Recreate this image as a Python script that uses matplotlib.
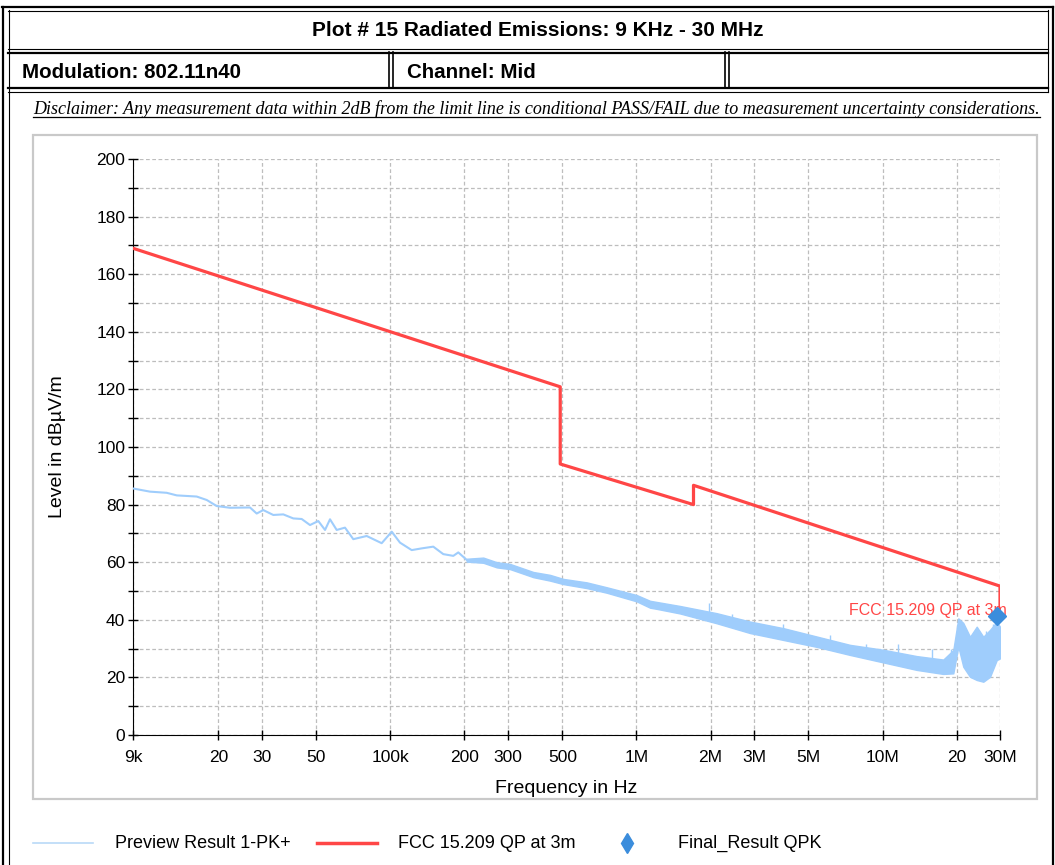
import matplotlib
matplotlib.use('Agg')
import matplotlib.pyplot as plt
from matplotlib import font_manager
from matplotlib.lines import Line2D
from matplotlib.patches import Rectangle

# preview trace (low frequency part, a single line)
preview_freq = [9.0e3, 10.55e3, 12.33e3, 13.55e3, 16.33e3, 17.94e3, 19.70e3, 22.31e3,
                26.89e3, 28.63e3, 30.45e3, 33.44e3, 36.72e3, 40.33e3, 43.62e3, 47.15e3,
                50.95e3, 54.26e3, 56.85e3, 60.52e3, 65.40e3, 70.69e3, 80.12e3, 85.21e3,
                92.20e3, 101.3e3, 109.4e3, 122.1e3, 134.1e3, 149.4e3, 164.1e3, 180.2e3,
                188.8e3, 204.3e3]
preview_level = [85.6, 84.5, 84.1, 83.2, 82.8, 81.6, 79.5, 78.9,
                 79.0, 76.9, 78.1, 76.4, 76.6, 75.2, 75.0, 72.9,
                 74.3, 71.2, 74.9, 71.2, 72.0, 68.0, 69.1, 68.0,
                 66.6, 70.6, 66.8, 64.2, 64.8, 65.4, 62.8, 62.2,
                 63.4, 60.8]

# preview trace, noisy part drawn as an envelope (upper / lower edge)
noise_freq = [204.3e3, 238.5e3, 270.5e3, 306.3e3, 352.5e3, 380.9e3, 445.4e3, 504.3e3,
              627.9e3, 756.9e3, 1.002e6, 1.135e6, 1.208e6, 1.503e6, 2.118e6, 2.893e6,
              3.951e6, 5.399e6, 7.373e6, 10.07e6, 13.76e6, 17.65e6, 19.38e6, 20.31e6,
              21.28e6, 22.66e6, 24.13e6, 25.66e6, 27.32e6, 29.09e6, 30.0e6]
noise_hi = [61.2, 61.6, 60.0, 59.4, 57.6, 56.6, 55.6, 54.2,
            53.0, 51.3, 48.6, 46.6, 46.2, 44.8, 42.3, 39.4,
            37.1, 34.2, 31.3, 29.6, 27.4, 26.2, 29.5, 40.5,
            38.9, 34.1, 37.6, 34.1, 36.5, 39.3, 37.6]
noise_lo = [60.2, 59.8, 58.2, 57.6, 55.8, 54.8, 53.6, 52.4,
            51.0, 49.4, 46.4, 44.2, 43.8, 42.2, 38.8, 35.4,
            33.0, 30.6, 27.8, 25.2, 22.6, 21.2, 21.4, 30.7,
            23.7, 20.2, 19.1, 18.5, 20.2, 26.0, 26.6]

# a few visible spikes above the noise floor
spike_freq = [1.98e6, 2.45e6, 3.95e6, 6.1e6, 8.6e6, 11.5e6, 15.9e6, 18.9e6, 26.4e6, 28.2e6]
spike_top = [46.0, 42.0, 38.4, 34.8, 31.6, 31.6, 30.0, 30.0, 36.0, 38.5]

# FCC 15.209 QP at 3m limit
limit_freq = [9e3, 490e3, 490e3, 1.705e6, 1.705e6, 30e6, 30e6]
limit_level = [169.0, 120.9, 94.1, 80.0, 86.7, 51.7, 41.5]

# Final result QPK
final_freq = [29.1e6]
final_level = [41.3]

xtick_freq = [9e3, 20e3, 30e3, 50e3, 100e3, 200e3, 300e3, 500e3,
              1e6, 2e6, 3e6, 5e6, 10e6, 20e6, 30e6]
xtick_labels = ['9k', '20', '30', '50', '100k', '200', '300', '500',
                '1M', '2M', '3M', '5M', '10M', '20', '30M']

W, H = 1055, 865
BLUE = '#9fcdfc'
RED = '#ff4646'
DIAMOND = '#3b8ddc'

names = {f.name for f in font_manager.fontManager.ttflist}
narrow = 'Liberation Sans Narrow' if 'Liberation Sans Narrow' in names else 'Liberation Sans'
plt.rcParams['font.family'] = ['Liberation Sans', 'DejaVu Sans']

fig = plt.figure(figsize=(W / 100, H / 100), dpi=100)


def fx(x):
    return x / W


def fy(y):
    return 1 - y / H


def hline(y, x0, x1, lw=1.0):
    fig.add_artist(Line2D([fx(x0), fx(x1)], [fy(y), fy(y)], transform=fig.transFigure,
                          color='black', lw=lw))


def vline(x, y0, y1, lw=1.0):
    fig.add_artist(Line2D([fx(x), fx(x)], [fy(y0), fy(y1)], transform=fig.transFigure,
                          color='black', lw=lw))


# table borders
hline(7, 2, 1053, 1.6)
hline(10.5, 8, 1048, 0.8)
hline(49, 8, 1048, 0.8)
hline(52.5, 8, 1048, 1.6)
hline(88, 8, 1048, 1.6)
hline(91.5, 8, 1048, 0.8)
vline(2.5, 7, 865, 1.6)
vline(8.5, 10, 865, 0.8)
vline(1048, 10, 91.5, 0.8)
vline(1052.5, 7, 865, 1.6)
vline(389, 52, 88, 1.2)
vline(393, 52, 88, 1.2)
vline(725, 52, 88, 1.2)
vline(729, 52, 88, 1.2)

fig.text(fx(538), fy(31), 'Plot # 15 Radiated Emissions: 9 KHz - 30 MHz',
         ha='center', va='center', fontsize=15, fontweight='bold', family=narrow)
fig.text(fx(22), fy(72), 'Modulation: 802.11n40', ha='left', va='center',
         fontsize=14.8, fontweight='bold', family=narrow)
fig.text(fx(407), fy(72), 'Channel: Mid', ha='left', va='center',
         fontsize=14.8, fontweight='bold', family=narrow)

disc = fig.text(fx(33), fy(114), 'Disclaimer: Any measurement data within 2dB from the limit line is '
                'conditional PASS/FAIL due to measurement uncertainty considerations.',
                ha='left', va='baseline', fontsize=14, style='italic',
                family=['Liberation Serif', 'DejaVu Serif'])
fig.canvas.draw()
bb = disc.get_window_extent()
disc.set_fontsize(14 * (1045 - 33) / bb.width)
fig.canvas.draw()
bb = disc.get_window_extent()
fig.add_artist(Line2D([bb.x0 / W, bb.x1 / W], [fy(116.5), fy(116.5)],
                      transform=fig.transFigure, color='black', lw=0.9))

# light gray frame round the chart
fig.add_artist(Rectangle((fx(33), fy(799)), (1037 - 33) / W, (799 - 135) / H,
                         transform=fig.transFigure, fill=False, ec='#c9c9c9', lw=1.6,
                         zorder=-1))

ax = fig.add_axes([fx(133), fy(735), (1000 - 133) / W, (735 - 159) / H])
ax.set_xscale('log')
ax.set_xlim(9e3, 30e6)
ax.set_ylim(0, 200)

ax.plot(preview_freq, preview_level, color=BLUE, lw=1.5, zorder=3)
ax.fill_between(noise_freq, noise_lo, noise_hi, color=BLUE, lw=1.0, zorder=3)
ax.vlines(spike_freq, [l - 4 for l in spike_top], spike_top, color=BLUE, lw=1.0, zorder=3)
ax.plot(limit_freq, limit_level, color=RED, lw=2.3, zorder=4)
ax.text(32e6, 43.4, 'FCC 15.209 QP at 3m', color=RED, fontsize=11.5,
        ha='right', va='center', zorder=5)
ax.plot(final_freq, final_level, linestyle='none', marker='D', color=DIAMOND,
        markersize=9, zorder=6, clip_on=False)

ax.set_xticks(xtick_freq)
ax.set_xticklabels(xtick_labels)
ax.xaxis.set_minor_locator(matplotlib.ticker.NullLocator())
ax.set_yticks(range(0, 201, 20))
ax.set_yticks(range(10, 200, 20), minor=True)
ax.tick_params(axis='both', which='both', direction='inout', length=7, width=1,
               labelsize=12.5, colors='black')
ax.tick_params(axis='x', pad=7)
ax.tick_params(axis='y', pad=2)
ax.grid(True, which='both', color='#bdbdbd', linestyle=(0, (3, 2)), lw=0.9)
ax.spines['top'].set_visible(False)
ax.spines['right'].set_visible(False)
ax.set_xlabel('Frequency in Hz', fontsize=14, labelpad=11)
ax.set_ylabel('Level in dBµV/m', fontsize=14, labelpad=22)

# legend row
ly = 843
fig.add_artist(Line2D([fx(33), fx(93)], [fy(ly), fy(ly)], transform=fig.transFigure,
                      color='#b9d9f7', lw=1.2))
fig.text(fx(115), fy(ly), 'Preview Result 1-PK+', ha='left', va='center', fontsize=13)
fig.add_artist(Line2D([fx(317), fx(377)], [fy(ly), fy(ly)], transform=fig.transFigure,
                      color=RED, lw=2.5))
fig.text(fx(398), fy(ly), 'FCC 15.209 QP at 3m', ha='left', va='center', fontsize=13)
fig.add_artist(Line2D([fx(627)], [fy(ly)], transform=fig.transFigure, marker='d',
                      color=DIAMOND, markersize=10, linestyle='none'))
fig.text(fx(678), fy(ly), 'Final_Result QPK', ha='left', va='center', fontsize=13)

fig.savefig('out.png', dpi=100)
